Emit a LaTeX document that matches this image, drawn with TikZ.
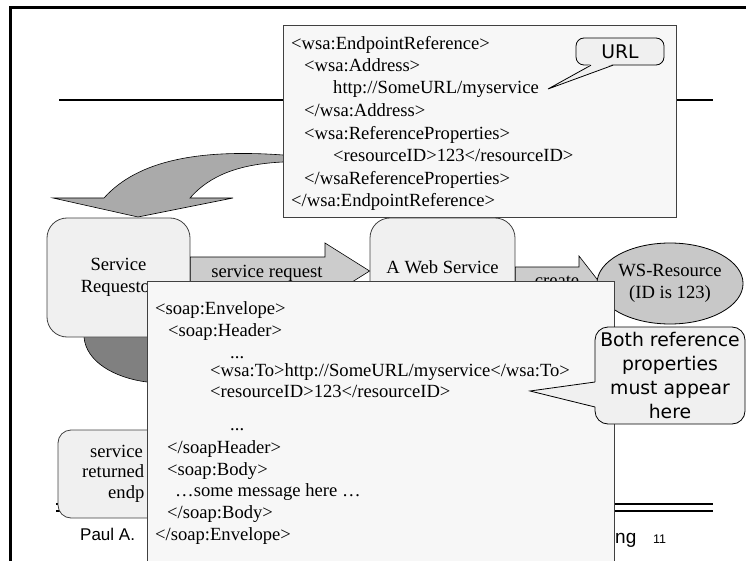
\documentclass[tikz,border=0pt]{standalone}
\usepackage{fontspec}
\setmainfont{Liberation Serif}
\newfontfamily\callfont{DejaVu Sans}
\newfontfamily\footfont{Liberation Sans}
\usetikzlibrary{shapes.geometric}
\definecolor{boxfill}{HTML}{F0F0F0}
\definecolor{paper}{HTML}{F7F7F7}
\definecolor{reqgray}{HTML}{CCCCCC}
\definecolor{curvegray}{HTML}{AAAAAA}
\definecolor{darkarrow}{HTML}{808080}
\definecolor{ellgray}{HTML}{C8C8C8}
\definecolor{edge}{HTML}{404040}
\newcommand{\codesize}{\fontsize{18.6}{22.4}\selectfont}
\newcommand{\callsize}{\fontsize{18.8}{24}\selectfont}
\begin{document}
\begin{tikzpicture}[x=1pt,y=-1pt,
  code/.style={anchor=base west, inner sep=0pt, font=\codesize},
  lbl/.style={anchor=base, inner sep=0pt, font=\codesize},
  procbox/.style={draw=edge, line width=0.8pt, fill=boxfill, rounded corners=20pt, inner sep=0pt, align=center, font=\codesize},
  paperbox/.style={draw=edge, line width=0.8pt, fill=paper, inner sep=0pt},
  callout/.style={draw=black, line width=0.8pt, fill=boxfill, inner sep=0pt, align=center, font=\callfont\callsize},
  pointer/.style={draw=black, line width=0.8pt},
  blockarrow/.style={draw=black, line width=0.6pt},
  frame/.style={line width=3pt, black},
  rule/.style={line width=2pt, black},
]
\useasboundingbox (0,0) rectangle (746,561);
% frame and slide rules
\coordinate (frTL) at (10.5,7.5);
\coordinate (frTR) at (746,7.5);
\coordinate (frBL) at (10.5,561);
\draw[frame] (frTR) -- (frTL) -- (frBL);
\coordinate (ruleL) at (59,100);
\coordinate (ruleR) at (713,100);
\draw[rule] (ruleL) -- (ruleR);
\coordinate (footAL) at (56,504);
\coordinate (footAR) at (713,504);
\coordinate (footBL) at (56,511);
\coordinate (footBR) at (713,511);
\draw[line width=2.5pt] (footAL) -- (footAR);
\draw[line width=2pt] (footBL) -- (footBR);

% big curved arrow (endpoint reference returned to requestor)
\draw[blockarrow, fill=curvegray] (330,155) -- (283,155)
  .. controls (200,149) and (138,160) .. (104,198) -- (53,198) -- (138,217) -- (233,198) -- (190,198)
  .. controls (210,175) and (240,164) .. (283,162) -- (330,162) -- cycle;

% endpoint reference box
\node[paperbox, minimum width=393pt, minimum height=192pt] (epr) at (479.5,121) {};
\node[code] (e1) at (291,50) {<wsa:EndpointReference>};
\node[code] (e2) at (304,72) {<wsa:Address>};
\node[code] (e3) at (333,94) {http://SomeURL/myservice};
\node[code] (e4) at (304,117) {</wsa:Address>};
\node[code] (e5) at (304,140) {<wsa:ReferenceProperties>};
\node[code] (e6) at (333,162) {<resourceID>123</resourceID>};
\node[code] (e7) at (304,185) {</wsaReferenceProperties>};
\node[code] (e8) at (291,207) {</wsa:EndpointReference>};

% URL callout
\node[callout, rounded corners=8pt, minimum width=88pt, minimum height=27pt] (url) at (620,51.5) {URL};
\coordinate (urltip) at (548,89);
\fill[boxfill] (591,64) -- (urltip) -- (613,64) -- cycle;
\draw[pointer] (591,65.2) -- (urltip) -- (613,65.2);

% dark returning arrow under the requestor
\draw[blockarrow, fill=darkarrow] (84,330) -- (84,337) .. controls (86,362) and (115,378) .. (147,382) -- (160,382) -- (160,330) -- cycle;

% service requestor and web service
\node[procbox, minimum width=143pt, minimum height=119pt] (req) at (118.5,277.5) {Service\\Requestor};
\node[procbox, minimum width=145pt, minimum height=98pt] (ws) at (442.5,267) {A Web Service};

% service request block arrow
\draw[blockarrow, fill=reqgray] (req.east |- 0,257) -- (325,257) -- (325,243) -- (ws.west |- 0,271) -- (325,299) -- (325,285) -- (req.east |- 0,285) -- cycle;
\node[lbl] (sreq) at (267,277) {service request};

% create block arrow
\draw[blockarrow, fill=reqgray] (ws.east |- 0,267) -- (579,267) -- (579,256) -- (600,283) -- (579,310) -- (579,299) -- (ws.east |- 0,299) -- cycle;
\node[lbl] (cr) at (557,286) {create};

% WS-Resource
\node[ellipse, draw=black, line width=0.8pt, fill=ellgray, minimum width=138pt, minimum height=81pt, inner sep=0pt, align=center, font=\codesize] (res) at (670,283.5) {WS-Resource\\(ID is 123)};

% bottom-left box
\node[procbox, rounded corners=13pt, minimum width=160pt, minimum height=88pt] (ret) at (138,474) {};
\node[code] (r1) at (90,457) {service};
\node[code] (r2) at (82,477) {returned};
\node[code] (r3) at (108,498) {endp};

% SOAP envelope box
\node[paperbox, minimum width=467pt, minimum height=300pt] (env) at (380.5,431) {};
\node[code] (s1) at (155,314) {<soap:Envelope>};
\node[code] (s2) at (168,336) {<soap:Header>};
\node[code] (s3) at (230,358) {...};
\node[code] (s4) at (210,376) {<wsa:To>http://SomeURL/myservice</wsa:To>};
\node[code] (s5) at (210,397) {<resourceID>123</resourceID>};
\node[code] (s6) at (230,430) {...};
\node[code] (s7) at (167,453) {</soapHeader>};
\node[code] (s8) at (167,475) {<soap:Body>};
\node[code] (s9) at (175,496) {…some message here …};
\node[code] (s10) at (167,518) {</soap:Body>};
\node[code] (s11) at (155,540) {</soap:Envelope>};

% Both reference callout
\node[callout, rounded corners=13pt, minimum width=150pt, minimum height=97pt] (both) at (670,375.5) {Both reference\\properties\\must appear\\here};
\coordinate (bothtip) at (530,391);
\fill[boxfill] (596.5,382) -- (bothtip) -- (596.5,407) -- cycle;
\draw[pointer] (595,382) -- (bothtip) -- (595,407);

% footer
\node[anchor=base west, inner sep=0pt, font=\footfont\fontsize{17}{20}\selectfont] (paul) at (80,540) {Paul A.};
\node[anchor=base west, inner sep=0pt, font=\footfont\fontsize{19}{22}\selectfont] (ng) at (615,543) {ng};
\node[anchor=base west, inner sep=0pt, font=\footfont\fontsize{12.5}{15}\selectfont] (pg) at (653,543) {11};
\end{tikzpicture}
\end{document}
